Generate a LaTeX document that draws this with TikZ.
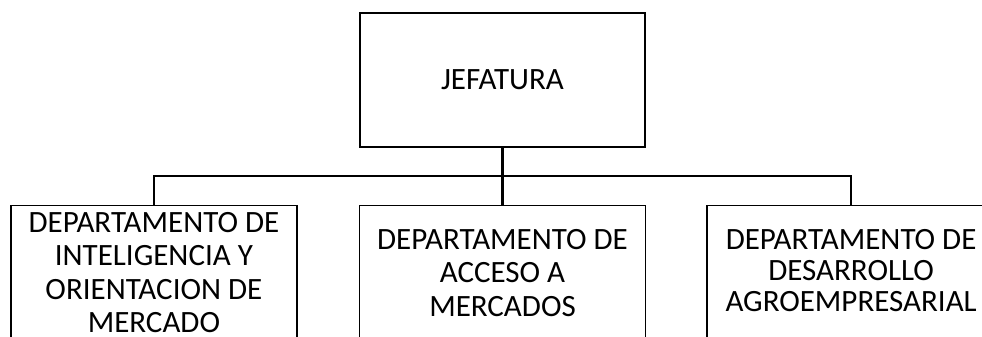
\documentclass[tikz,border=0pt]{standalone}
\usepackage{fontspec}
\setmainfont{Carlito}
\usepackage{tikz}
\usetikzlibrary{positioning}
\tikzset{
x=1pt, y=1pt, % one unit is one pixel of the chart
node distance=57pt, % gap between the levels. Change if necessary.
unit/.style={draw, line width=1.6pt, fill=white, align=center, minimum width=286pt, inner sep=0pt,
  font=\fontsize{31}{33.5}\selectfont}, % every box of the chart
conn/.style={line width=2.6pt}, % lines from the head to the departments
}
\begin{document}
\begin{tikzpicture}
            \useasboundingbox (0,-337) rectangle (982,0);
            \clip (0,-337) rectangle (982,0);
            \node[unit, minimum width=285pt, minimum height=134pt] (jef) at (502.5,-80) {JEFATURA};
            \node[unit, below=of jef, minimum height=134pt] (dep2) {DEPARTAMENTO DE\\ACCESO A\\MERCADOS};
            \node[unit, left=61pt of dep2.north west, anchor=north east, minimum height=150pt, text depth=16pt] (dep1) {DEPARTAMENTO DE\\INTELIGENCIA Y\\ORIENTACION DE\\MERCADO};
            \node[unit, right=60pt of dep2.north east, anchor=north west, minimum height=160pt, text depth=30pt, minimum width=288pt,
                font=\fontsize{31}{31}\selectfont] (dep3) {DEPARTAMENTO DE\\DESARROLLO\\AGROEMPRESARIAL};
            \coordinate[below=28pt of jef.south] (bar);
            \draw[conn]
                (jef.south) -- (bar)
                (dep1.north) |- (bar) -| (dep3.north)
                (bar) -- (dep2.north)
                ;
            \end{tikzpicture}
\end{document}
